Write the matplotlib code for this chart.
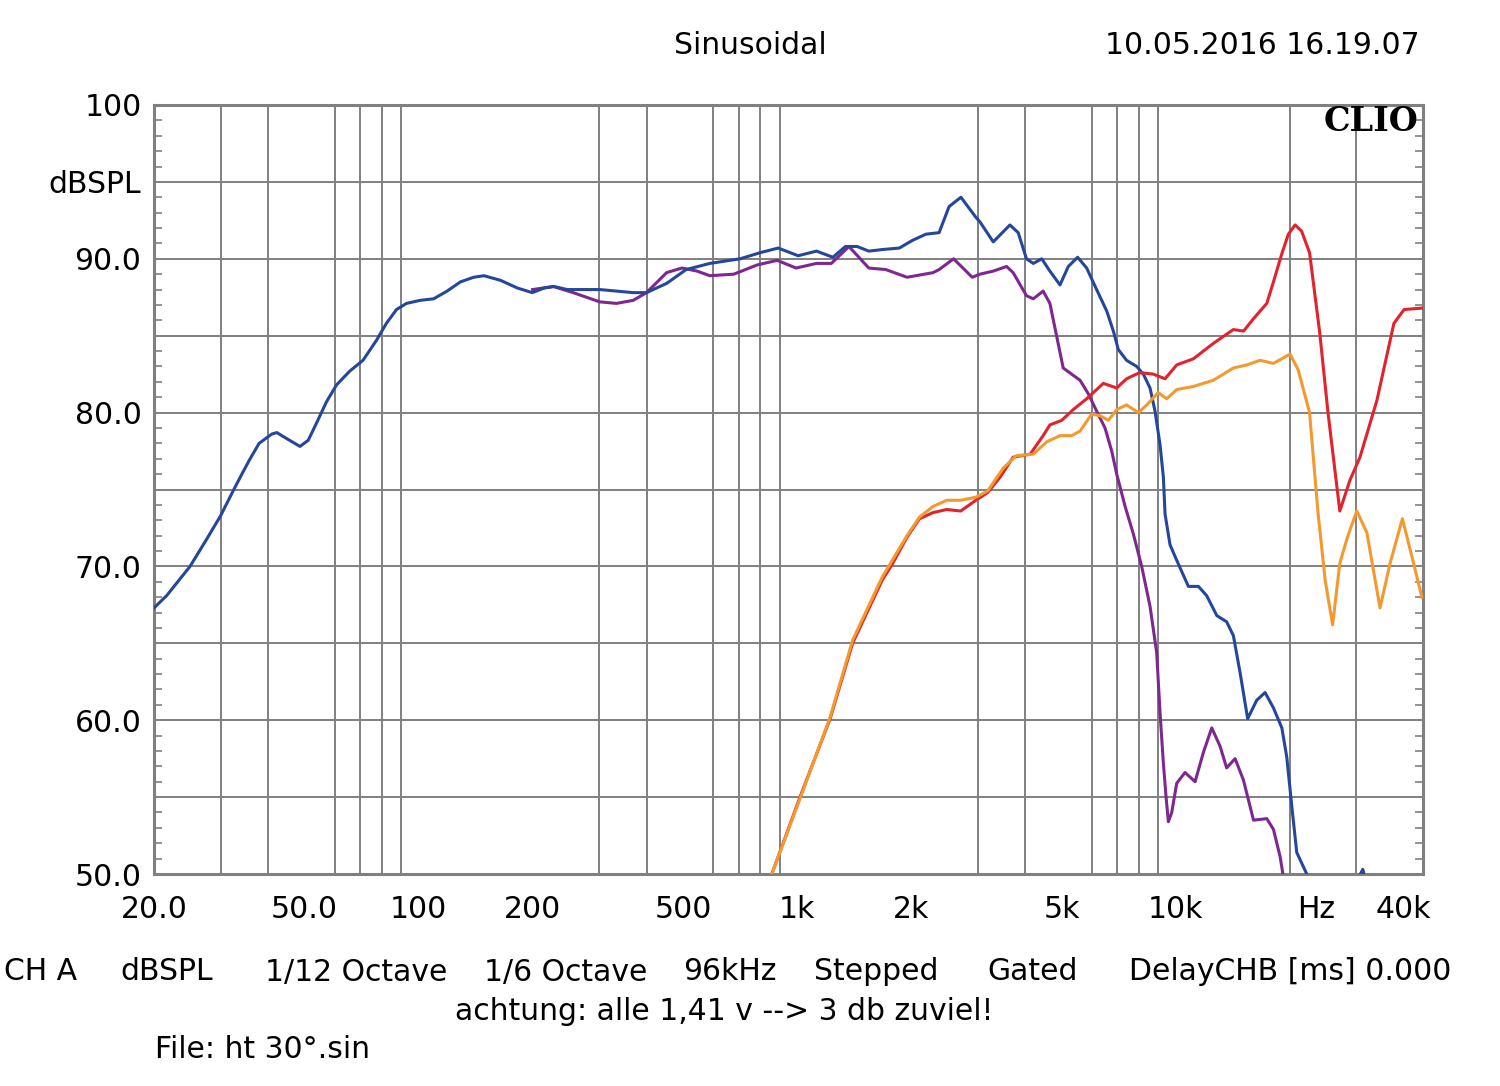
import matplotlib
matplotlib.use('Agg')
import numpy as np
from matplotlib import pyplot as plt
from matplotlib.ticker import FixedLocator, MultipleLocator, NullFormatter

plt.rcParams['font.family'] = 'DejaVu Sans'
plt.rcParams['font.size'] = 21.5

# Curves (Hz, dBSPL)
blue_f = [20, 21.6, 24.9, 27.6, 30, 32.5, 34.3, 35.7, 37.9, 40.9, 42.2, 44.9, 48.6, 51.1, 53.7,
          57.1, 60.7, 65.8, 71.3, 77.4, 82.2, 87.4, 92.9, 101, 109.6, 118.9, 129, 139.8, 148.8,
          164.6, 182.4, 199.6, 214.6, 227.7, 246.9, 301, 369, 400, 452, 509, 588, 707, 799, 891,
          1006, 1125, 1243, 1341, 1440, 1546, 1677, 1862, 2017, 2188, 2371, 2520, 2708, 2965,
          3040, 3296, 3648, 3836, 4034, 4205, 4427, 4652, 4946, 5203, 5506, 5818, 6181, 6574,
          6843, 7053, 7416, 7888, 8214, 8553, 8817, 9091, 9277, 9372, 9661, 10060, 10800, 11480,
          12070, 12840, 13630, 14200, 14790, 15490, 16370, 17220, 18120, 19070, 19650, 20260,
          20880, 22190, 24000, 28000, 31200, 33000]
blue_db = [67.3, 68.1, 70.0, 71.8, 73.3, 75.0, 76.1, 76.9, 78.0, 78.6, 78.7, 78.3, 77.8, 78.2, 79.3,
           80.7, 81.8, 82.7, 83.4, 84.7, 85.8, 86.7, 87.1, 87.3, 87.4, 87.9, 88.5, 88.8, 88.9,
           88.6, 88.1, 87.8, 88.1, 88.2, 88.0, 88.0, 87.8, 87.8, 88.4, 89.3, 89.7, 90.0, 90.4, 90.7,
           90.2, 90.5, 90.1, 90.8, 90.8, 90.5, 90.6, 90.7, 91.2, 91.6, 91.7, 93.4, 94.0, 92.7,
           92.4, 91.1, 92.2, 91.7, 90.0, 89.7, 90.0, 89.2, 88.3, 89.5, 90.1, 89.4, 88.0, 86.6,
           85.3, 84.1, 83.4, 83.0, 82.5, 81.6, 80.1, 77.9, 75.8, 73.4, 71.4, 70.4, 68.7, 68.7,
           68.1, 66.8, 66.4, 65.5, 63.1, 60.1, 61.3, 61.8, 60.8, 59.5, 57.6, 54.4,
           51.4, 50.0, 48.5, 48.0, 50.3, 48.0]

purple_f = [200, 227, 256, 301, 333, 369, 400, 452, 496, 544, 588, 680, 784, 886, 993, 1125,
            1231, 1370, 1546, 1714, 1951, 2286, 2371, 2590, 2900, 3040, 3296, 3574, 3720, 4034,
            4205, 4464, 4652, 4844, 5044, 5309, 5590, 5883, 6181, 6505, 6775, 6985, 7350, 7730,
            8130, 8554, 8906, 9090, 9277, 9430, 9563, 9760, 10060, 10580, 11250, 11830, 12450,
            13100, 13630, 14350, 15100, 16050, 17400, 18120, 18880, 19190, 19500]
purple_db = [88.0, 88.2, 87.8, 87.2, 87.1, 87.3, 87.8, 89.1, 89.4, 89.2, 88.9, 89.0, 89.6, 89.9, 89.4, 89.7,
             89.7, 90.8, 89.4, 89.3, 88.8, 89.1, 89.3, 90.0, 88.8, 89.0, 89.2, 89.5, 89.1, 87.6,
             87.4, 87.9, 87.1, 85.0, 82.9, 82.5, 82.1, 81.2, 80.1, 79.0, 77.5, 76.0, 73.9, 72.1,
             70.0, 67.4, 64.4, 60.5, 57.2, 55.0, 53.4, 54.0, 55.9, 56.6, 56.0, 57.9, 59.5,
             58.3, 56.9, 57.5, 56.1, 53.5, 53.6, 52.9, 51.1, 50.0, 48.5]

red_f = [857, 1021, 1222, 1401, 1677, 1779, 1951, 2104, 2286, 2485, 2704, 2965, 3185, 3436,
         3720, 4127, 4464, 4652, 5000, 5364, 5818, 6438, 6985, 7416, 8033, 8729, 9372, 10060,
         11140, 12570, 14200, 15110, 16040, 17400, 18120, 19050, 19840, 20670, 21500, 22570,
         24010, 25250, 27130, 28850, 30670, 34000, 37700, 40100, 45000]
red_db = [50.0, 55.1, 60.1, 65.0, 69.1, 70.1, 71.9, 73.1, 73.5, 73.7, 73.6, 74.3, 74.8, 75.8,
          77.1, 77.3, 78.5, 79.2, 79.5, 80.2, 80.9, 81.9, 81.6, 82.2, 82.6, 82.5, 82.2, 83.1,
          83.5, 84.5, 85.4, 85.3, 86.1, 87.1, 88.5, 90.3, 91.6, 92.2, 91.8, 90.4,
          85.2, 80.0, 73.6, 75.6, 77.1, 80.8, 85.8, 86.7, 86.8]

orange_f = [857, 1021, 1222, 1401, 1677, 1951, 2104, 2286, 2485, 2704, 2965, 3185, 3505, 3795,
            4205, 4563, 4946, 5309, 5590, 5997, 6308, 6638, 6985, 7416, 7967, 8384, 8985, 9467,
            10060, 11140, 12570, 14200, 15410, 16700, 18120, 20040, 21050, 22570, 23760, 24820,
            25970, 27130, 28500, 30080, 31980, 34650, 36830, 39700, 42500, 44700]
orange_db = [50.0, 55.0, 60.2, 65.2, 69.3, 72.0, 73.2, 73.9, 74.3, 74.3, 74.5, 74.9, 76.4, 77.2,
             77.3, 78.1, 78.5, 78.5, 78.8, 79.9, 79.8, 79.5, 80.2, 80.5, 80.0, 80.5, 81.3, 80.9,
             81.5, 81.7, 82.1, 82.9, 83.1, 83.4, 83.2, 83.8, 82.8, 80.0, 73.5, 69.1,
             66.2, 70.2, 72.0, 73.6, 72.2, 67.3, 70.2, 73.1, 70.2, 68.0]

x_ticks = [20, 50, 100, 200, 500, 1000, 2000, 5000, 10000, 23500, 40000]
x_labels = ['20.0', '50.0', '100', '200', '500', '1k', '2k', '5k', '10k', 'Hz', '40k']
y_ticks = [50, 55, 60, 65, 70, 75, 80, 85, 90, 95, 100]
y_labels = ['50.0', '', '60.0', '', '70.0', '', '80.0', '', '90.0', 'dBSPL', '100']

footer = ['CH A', 'dBSPL', '1/12 Octave', '1/6 Octave', '96kHz', 'Stepped', 'Gated',
          'DelayCHB [ms] 0.000']
footer_x = [41, 167, 356, 566, 730, 876, 1033, 1290]

gridc = '#808080'

fig = plt.figure(figsize=(15, 10.86), dpi=100)
ax = fig.add_axes([154 / 1500, 1 - 874 / 1086, 1269 / 1500, 769 / 1086])

# traces
ax.plot(purple_f, purple_db, color='#7e2790', lw=2.2, zorder=3)
ax.plot(blue_f, blue_db, color='#25479b', lw=2.2, zorder=4)
ax.plot(red_f, red_db, color='#e2232b', lw=2.2, zorder=5)
ax.plot(orange_f, orange_db, color='#f39a2e', lw=2.2, zorder=6)

ax.set_xscale('log')
ax.set_xlim(20, 45000)
ax.set_ylim(50, 100)

grid_f = [m * d for d in [10, 100, 1000, 10000] for m in range(1, 10) if 20 <= m * d <= 45000]
ax.xaxis.set_major_locator(FixedLocator(x_ticks))
ax.set_xticklabels(x_labels)
ax.xaxis.set_minor_locator(FixedLocator(grid_f))
ax.xaxis.set_minor_formatter(NullFormatter())
ax.tick_params(axis='x', which='both', length=0)
ax.tick_params(axis='x', which='major', pad=15)

ax.set_yticks(y_ticks)
ax.set_yticklabels(y_labels)
ax.yaxis.set_minor_locator(MultipleLocator(1))
ax.tick_params(axis='y', which='major', length=0, pad=9)
ax.tick_params(axis='y', which='minor', direction='in', length=5.5, width=1.2,
               color=gridc, left=True, right=True)

ax.grid(which='minor', axis='x', color=gridc, lw=1.4)
ax.grid(which='major', axis='y', color=gridc, lw=1.4)
ax.set_axisbelow(True)
for sp in ax.spines.values():
    sp.set_color(gridc)
    sp.set_linewidth(2.2)

ax.text(0.996, 0.978, 'CLIO', transform=ax.transAxes, ha='right', va='center',
        family='DejaVu Serif', weight='bold', fontsize=24)

fig.text(750 / 1500, 1 - 45 / 1086, 'Sinusoidal', ha='center', va='center')
fig.text(1420 / 1500, 1 - 45 / 1086, '10.05.2016 16.19.07', ha='right', va='center')

for lab, xp in zip(footer, footer_x):
    fig.text(xp / 1500, 1 - 972 / 1086, lab, ha='center', va='center')
fig.text(724 / 1500, 1 - 1012 / 1086, 'achtung: alle 1,41 v --> 3 db zuviel!', ha='center', va='center')
fig.text(155 / 1500, 1 - 1050 / 1086, 'File: ht 30°.sin', ha='left', va='center')

fig.savefig('out.png', dpi=100)
